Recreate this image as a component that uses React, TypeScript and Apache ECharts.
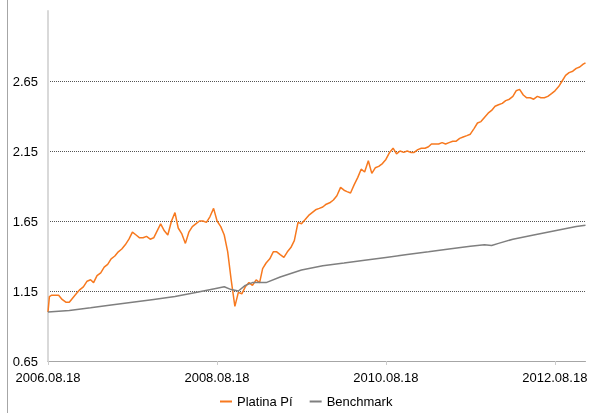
import React, { useEffect, useRef } from 'react';
import * as echarts from 'echarts';

const startDate = '2006-08-18';
const endDate = '2012-12-28';
const xTickLabels = ['2006.08.18', '2008.08.18', '2010.08.18', '2012.08.18'];
const seriesNames = ['Platina Pí', 'Benchmark'];

const platinaDates = [
  '2006-08-18', '2006-08-24', '2006-09-03', '2006-09-18', '2006-10-03', '2006-10-18', '2006-11-03', '2006-11-18', '2006-12-03',
  '2006-12-18', '2007-01-03', '2007-01-18', '2007-02-03', '2007-02-18', '2007-03-03', '2007-03-18', '2007-04-03',
  '2007-04-18', '2007-05-03', '2007-05-18', '2007-06-03', '2007-06-18', '2007-07-03', '2007-07-18', '2007-08-03',
  '2007-08-18', '2007-09-03', '2007-09-18', '2007-10-03', '2007-10-18', '2007-11-03', '2007-11-18', '2007-12-03',
  '2007-12-18', '2008-01-03', '2008-01-18', '2008-02-03', '2008-02-18', '2008-03-03', '2008-03-18', '2008-04-03',
  '2008-04-18', '2008-05-03', '2008-05-18', '2008-06-03', '2008-06-18', '2008-07-03', '2008-07-18', '2008-08-03',
  '2008-08-18', '2008-09-03', '2008-09-18', '2008-10-03', '2008-10-18', '2008-11-03', '2008-11-18', '2008-12-03',
  '2008-12-18', '2009-01-03', '2009-01-18', '2009-02-03', '2009-02-18', '2009-03-03', '2009-03-18', '2009-04-03',
  '2009-04-18', '2009-05-03', '2009-05-18', '2009-06-03', '2009-06-18', '2009-07-03', '2009-07-18', '2009-08-03',
  '2009-08-18', '2009-09-03', '2009-09-18', '2009-10-03', '2009-10-18', '2009-11-03', '2009-11-18', '2009-12-03',
  '2009-12-18', '2010-01-03', '2010-01-18', '2010-02-03', '2010-02-18', '2010-03-03', '2010-03-18', '2010-04-03',
  '2010-04-18', '2010-05-03', '2010-05-18', '2010-06-03', '2010-06-18', '2010-07-03', '2010-07-18', '2010-08-03',
  '2010-08-18', '2010-09-03', '2010-09-18', '2010-10-03', '2010-10-18', '2010-11-03', '2010-11-18', '2010-12-03',
  '2010-12-18', '2011-01-03', '2011-01-18', '2011-02-03', '2011-02-18', '2011-03-03', '2011-03-18', '2011-04-03',
  '2011-04-18', '2011-05-03', '2011-05-18', '2011-06-03', '2011-06-18', '2011-07-03', '2011-07-18', '2011-08-03',
  '2011-08-18', '2011-09-03', '2011-09-18', '2011-10-03', '2011-10-18', '2011-11-03', '2011-11-18', '2011-12-03',
  '2011-12-18', '2012-01-03', '2012-01-18', '2012-02-03', '2012-02-18', '2012-03-03', '2012-03-18', '2012-04-03',
  '2012-04-18', '2012-05-03', '2012-05-18', '2012-06-03', '2012-06-18', '2012-07-03', '2012-07-18', '2012-08-03',
  '2012-08-18', '2012-09-03', '2012-09-18', '2012-10-03', '2012-10-18', '2012-11-03', '2012-11-18', '2012-12-03',
  '2012-12-18', '2012-12-28',
];

const platinaValues = [
  1.0, 1.11, 1.12, 1.12, 1.12, 1.09, 1.07, 1.07, 1.1,
  1.13, 1.16, 1.18, 1.22, 1.23, 1.21, 1.26, 1.28,
  1.32, 1.34, 1.38, 1.4, 1.43, 1.45, 1.48, 1.52,
  1.57, 1.55, 1.53, 1.53, 1.54, 1.52, 1.53, 1.58,
  1.63, 1.58, 1.55, 1.65, 1.71, 1.6, 1.56, 1.49,
  1.57, 1.61, 1.63, 1.65, 1.65, 1.64, 1.68, 1.74,
  1.65, 1.61, 1.55, 1.43, 1.23, 1.04, 1.14, 1.13,
  1.18, 1.21, 1.19, 1.23, 1.21, 1.31, 1.35, 1.38,
  1.43, 1.43, 1.41, 1.39, 1.43, 1.46, 1.51, 1.64,
  1.63, 1.66, 1.69, 1.71, 1.73, 1.74, 1.75, 1.77,
  1.78, 1.8, 1.83, 1.89, 1.87, 1.86, 1.85, 1.91,
  1.96, 2.02, 2.0, 2.08, 1.99, 2.03, 2.04, 2.06,
  2.09, 2.14, 2.17, 2.13, 2.15, 2.14, 2.15, 2.14,
  2.14, 2.16, 2.17, 2.17, 2.18, 2.2, 2.2, 2.2,
  2.21, 2.2, 2.21, 2.22, 2.22, 2.24, 2.25, 2.26,
  2.27, 2.31, 2.35, 2.36, 2.39, 2.42, 2.44, 2.47,
  2.48, 2.49, 2.51, 2.52, 2.54, 2.58, 2.59, 2.55,
  2.53, 2.53, 2.52, 2.54, 2.53, 2.53, 2.54, 2.56,
  2.58, 2.61, 2.65, 2.69, 2.71, 2.72, 2.74, 2.75,
  2.77, 2.78,
];

const benchDates = [
  '2006-08-18', '2006-11-18', '2007-02-18', '2007-05-18', '2007-08-18', '2007-11-18', '2008-02-18', '2008-05-18',
  '2008-08-18', '2008-09-18', '2008-10-18', '2008-11-18', '2008-12-18', '2009-01-18', '2009-02-18', '2009-03-18',
  '2009-05-18', '2009-08-18', '2009-11-18', '2010-02-18', '2010-05-18', '2010-08-18', '2010-11-18', '2011-02-18',
  '2011-05-18', '2011-08-18', '2011-10-18', '2011-11-18', '2011-12-18', '2012-02-18', '2012-05-18', '2012-08-18',
  '2012-11-18', '2012-12-28',
];

const benchValues = [
  1.0, 1.01, 1.03, 1.05, 1.07, 1.09, 1.11, 1.14,
  1.17, 1.18, 1.16, 1.15, 1.19, 1.21, 1.21, 1.21,
  1.25, 1.3, 1.33, 1.35, 1.37, 1.39, 1.41, 1.43,
  1.45, 1.47, 1.48, 1.475, 1.49, 1.52, 1.55, 1.58,
  1.61, 1.62,
];

const FONT = 'Liberation Sans, Arial, sans-serif';

export default function App() {
  const ref = useRef<HTMLDivElement>(null);
  useEffect(() => {
    if (!ref.current) return;
    const chart = echarts.init(ref.current, null, { renderer: 'svg' });
    const t0 = Date.parse(startDate);
    const toDays = (d: string) => (Date.parse(d) - t0) / 86400000;
    const xMax = toDays(endDate);
    const step = 730.5;
    chart.setOption({
      animation: false,
      grid: { left: 48, right: 3.5, top: 11, bottom: 52, containLabel: false, outerBoundsMode: 'none' },
      legend: {
        data: seriesNames,
        left: 220,
        top: 395,
        padding: 0,
        icon: 'rect',
        itemWidth: 12,
        itemHeight: 2,
        itemGap: 17,
        textStyle: { fontSize: 13, color: '#000', fontFamily: FONT },
      },
      xAxis: {
        type: 'value',
        min: 0,
        max: xMax,
        interval: step,
        axisLine: { show: true, lineStyle: { color: '#a6a6a6', width: 1 } },
        axisTick: { show: true, length: 4, lineStyle: { color: '#cccccc' } },
        splitLine: { show: false },
        axisLabel: {
          margin: 10,
          fontSize: 13,
          color: '#000',
          fontFamily: FONT,
          showMaxLabel: false,
          formatter: (v: number) => {
            const i = Math.round(v / step);
            return Math.abs(v - i * step) < 1 && xTickLabels[i] ? xTickLabels[i] : '';
          },
        },
      },
      yAxis: {
        type: 'value',
        min: 0.65,
        max: 3.15,
        interval: 0.5,
        axisLine: { show: true, lineStyle: { color: '#d9d9d9', width: 2 } },
        axisTick: { show: false },
        splitLine: {
          show: true,
          showMinLine: false,
          showMaxLine: false,
          lineStyle: { color: '#555', type: [1, 1], width: 1 },
        },
        axisLabel: {
          margin: 10,
          fontSize: 13,
          color: '#000',
          fontFamily: FONT,
          showMaxLabel: false,
          formatter: (v: number) => v.toFixed(2),
        },
      },
      graphic: [
        {
          type: 'line',
          shape: { x1: 7.5, y1: 0, x2: 7.5, y2: 413 },
          style: { stroke: '#a6a6a6', lineWidth: 1 },
          silent: true,
        },
      ],
      series: [
        {
          name: seriesNames[0],
          type: 'line',
          symbol: 'none',
          showSymbol: false,
          color: '#f7791f',
          lineStyle: { color: '#f7791f', width: 1.5 },
          data: platinaDates.map((d, i) => [toDays(d), platinaValues[i]]),
        },
        {
          name: seriesNames[1],
          type: 'line',
          symbol: 'none',
          showSymbol: false,
          color: '#7f7f7f',
          lineStyle: { color: '#7f7f7f', width: 1.5 },
          data: benchDates.map((d, i) => [toDays(d), benchValues[i]]),
        },
      ],
    });
    return () => chart.dispose();
  }, []);
  return <div ref={ref} style={{ position: 'fixed', left: 0, top: 0, width: 589, height: 413 }} />;
}
